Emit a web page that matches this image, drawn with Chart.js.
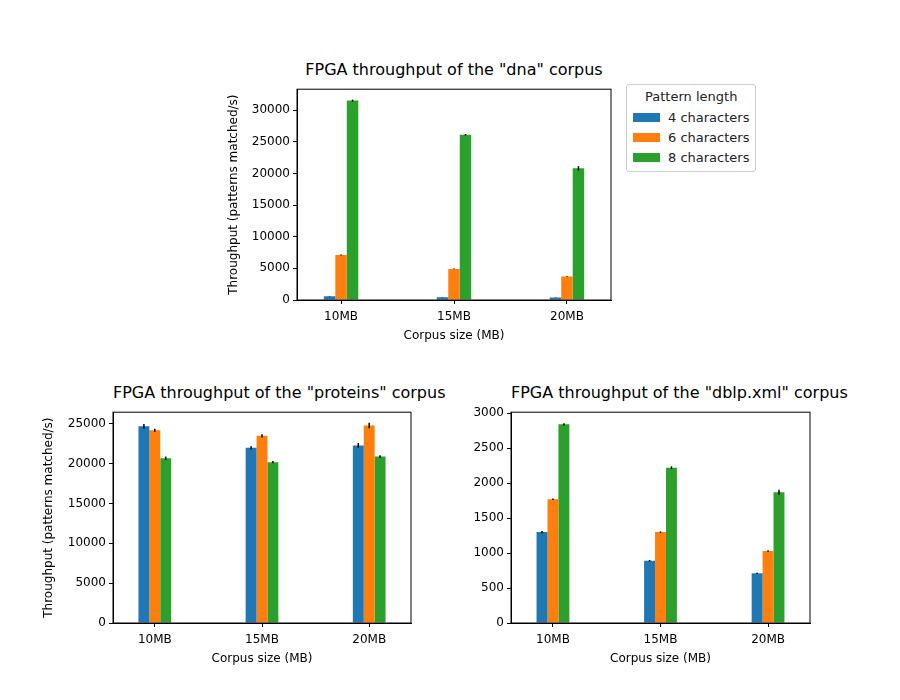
<!DOCTYPE html>
<html><head><meta charset="utf-8">
<script src="https://cdn.jsdelivr.net/npm/chart.js@4"></script>
<style>
body{margin:0;width:900px;height:700px;background:#fff;position:relative;font-family:"DejaVu Sans",sans-serif}
canvas{position:absolute}
.title{position:absolute;font-size:16px;color:#000;text-align:center;white-space:nowrap}
#legend{position:absolute;left:626px;top:84px;border:1px solid #ccc;border-radius:3px;padding:4px 6px;font-size:13px;color:#222;background:#fff}
#legend .t{text-align:center;margin-bottom:3px}
#legend .r{display:flex;align-items:center;height:20px}
#legend .s{width:27px;height:9px;margin-right:8px}
</style></head><body>
<canvas id="c1"></canvas>
<canvas id="c2"></canvas>
<canvas id="c3"></canvas>
<div id="legend"><div class="t">Pattern length</div></div>
<script>
const categories = ['10MB', '15MB', '20MB'];
const seriesNames = ['4 characters', '6 characters', '8 characters'];
const colors = ['#1f77b4', '#ff7f0e', '#2ca02c'];

const dnaValues = [[600, 450, 400], [7100, 4900, 3700], [31500, 26100, 20800]];
const dnaErrors = [[40, 30, 30], [80, 60, 50], [150, 120, 350]];
const dnaTicks = [0, 5000, 10000, 15000, 20000, 25000, 30000];
const proteinValues = [[24700, 22000, 22300], [24200, 23500, 24800], [20700, 20200, 20900]];
const proteinErrors = [[300, 200, 300], [200, 200, 350], [200, 150, 150]];
const proteinTicks = [0, 5000, 10000, 15000, 20000, 25000];
const dblpValues = [[1300, 890, 710], [1770, 1300, 1030], [2840, 2220, 1870]];
const dblpErrors = [[15, 10, 8], [10, 10, 10], [15, 20, 35]];
const dblpTicks = [0, 500, 1000, 1500, 2000, 2500, 3000];

const errorBars = {
  id: 'errorBars',
  afterDatasetsDraw(chart) {
    const ctx = chart.ctx, y = chart.scales.y;
    chart.data.datasets.forEach((ds, di) => {
      chart.getDatasetMeta(di).data.forEach((bar, i) => {
        const v = ds.data[i].y, e = ds.err[i];
        ctx.save();
        ctx.strokeStyle = '#000'; ctx.lineWidth = 1.5;
        ctx.beginPath();
        ctx.moveTo(bar.x, y.getPixelForValue(v - e));
        ctx.lineTo(bar.x, y.getPixelForValue(v + e));
        ctx.stroke();
        ctx.restore();
      });
    });
    const a = chart.chartArea;
    ctx.save(); ctx.strokeStyle = '#000'; ctx.lineWidth = 1;
    ctx.strokeRect(a.left, a.top, a.right - a.left, a.bottom - a.top);
    ctx.restore();
  }
};

function makeChart(id, pos, title, values, errors, yMax, yTicks, yTitle) {
  const cv = document.getElementById(id);
  const w = pos.yw + pos.pw + 5, h = 5 + pos.ph + 45;
  cv.style.left = (pos.left - pos.yw) + 'px';
  cv.style.top = (pos.top - 5) + 'px';
  cv.style.width = w + 'px'; cv.style.height = h + 'px';
  cv.width = w; cv.height = h;

  const t = document.createElement('div');
  t.className = 'title'; t.textContent = title;
  t.style.left = pos.left + 'px'; t.style.width = pos.pw + 'px';
  t.style.top = (pos.top - 24) + 'px';
  document.body.appendChild(t);

  new Chart(cv, {
    type: 'bar',
    data: {
      datasets: values.map((vals, si) => ({
        label: seriesNames[si],
        data: vals.map((v, i) => ({ x: i, y: v })),
        err: errors[si],
        backgroundColor: colors[si],
        barPercentage: 1,
        categoryPercentage: 0.305
      }))
    },
    options: {
      responsive: false, animation: false,
      layout: { padding: { left: 0, right: 5, top: 5, bottom: 0 } },
      plugins: { legend: { display: false }, tooltip: { enabled: false } },
      scales: {
        x: {
          type: 'linear', min: -0.39, max: 2.39, offset: false,
          afterFit: s => { s.height = 45; },
          afterBuildTicks: s => { s.ticks = [0, 1, 2].map(v => ({ value: v })); },
          ticks: { color: '#000', padding: 6, font: { size: 12, family: 'DejaVu Sans' }, callback: v => categories[v] },
          grid: { drawOnChartArea: false, offset: false, tickLength: 4, color: '#000' },
          border: { color: '#000' },
          title: { display: true, text: 'Corpus size (MB)', color: '#000', font: { size: 12, family: 'DejaVu Sans' }, padding: 2 }
        },
        y: {
          min: 0, max: yMax,
          afterFit: s => { s.width = pos.yw; },
          afterBuildTicks: s => { s.ticks = yTicks.map(v => ({ value: v })); },
          ticks: { color: '#000', font: { size: 12, family: 'DejaVu Sans' }, callback: v => String(v) },
          grid: { drawOnChartArea: false, tickLength: 4, color: '#000' },
          border: { color: '#000' },
          title: { display: !!yTitle, text: yTitle, color: '#000', font: { size: 12, family: 'DejaVu Sans' }, padding: 2 }
        }
      }
    },
    plugins: [errorBars]
  });
}

makeChart('c1', { left: 297, top: 84, pw: 314, ph: 216, yw: 72 }, 'FPGA throughput of the "dna" corpus', dnaValues, dnaErrors, 33300, dnaTicks, 'Throughput (patterns matched/s)');
makeChart('c2', { left: 113, top: 407, pw: 298, ph: 216, yw: 73 }, 'FPGA throughput of the "proteins" corpus', proteinValues, proteinErrors, 26470, proteinTicks, 'Throughput (patterns matched/s)');
makeChart('c3', { left: 511, top: 407, pw: 299, ph: 216, yw: 50 }, 'FPGA throughput of the "dblp.xml" corpus', dblpValues, dblpErrors, 3014, dblpTicks, '');

const lg = document.getElementById('legend');
seriesNames.forEach((n, i) => {
  const r = document.createElement('div'); r.className = 'r';
  r.innerHTML = `<span class="s" style="background:${colors[i]}"></span>${n}`;
  lg.appendChild(r);
});
</script></body></html>
